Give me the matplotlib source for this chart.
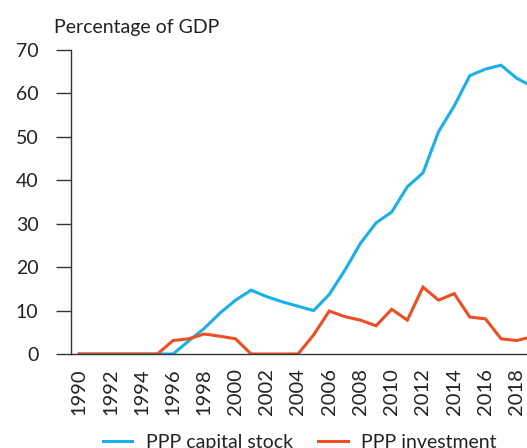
import matplotlib
matplotlib.use("Agg")
import matplotlib.pyplot as plt

years = list(range(1990, 2020))
capital_stock = [0, 0, 0, 0, 0, 0, 0, 3.0, 5.9, 9.4, 12.4, 14.7, 13.2, 12.0, 11.0, 10.0,
                 13.7, 19.3, 25.5, 30.2, 32.7, 38.5, 41.7, 51.2, 57.1, 64.1, 65.6, 66.5, 63.5, 61.6]
investment = [0, 0, 0, 0, 0, 0, 3.1, 3.5, 4.6, 4.1, 3.5, 0, 0, 0, 0, 4.4,
              9.9, 8.6, 7.8, 6.5, 10.3, 7.8, 15.4, 12.4, 13.9, 8.5, 8.1, 3.5, 3.1, 4.0]
xtick_years = list(range(1990, 2019, 2))
yticks = [0, 10, 20, 30, 40, 50, 60, 70]

plt.rcParams['font.family'] = ['Lato', 'DejaVu Sans']
BLUE = '#1AAEEA'
RED = '#EE4E24'
TXT = '#222222'

fig = plt.figure(figsize=(5.27, 4.48), dpi=100)
W, H = 527, 448
x_left_px, x_right_px = 70.5, 545
ax = fig.add_axes([x_left_px / W, (H - 354) / H, (x_right_px - x_left_px) / W, (354 - 50) / H])

ax.plot(years, capital_stock, color=BLUE, lw=2.2, label='PPP capital stock', solid_joinstyle='miter')
ax.plot(years, investment, color=RED, lw=2.2, label='PPP investment', solid_joinstyle='miter')

px_per_year = 15.62
ax.set_xlim(1990 - (79.3 - x_left_px) / px_per_year, 1990 + (x_right_px - 79.3) / px_per_year)
ax.set_ylim(0, 70)
ax.set_yticks(yticks)
ax.set_xticks(xtick_years)
ax.set_xticklabels([str(y) for y in xtick_years], rotation=90)

for s in ['top', 'right']:
    ax.spines[s].set_visible(False)
for s in ['left', 'bottom']:
    ax.spines[s].set_color('#333333')
    ax.spines[s].set_linewidth(1.0)

ax.tick_params(axis='y', length=11, width=1.0, color='#333333', pad=12, labelsize=14, labelcolor=TXT)
ax.tick_params(axis='x', length=0, pad=10, labelsize=14.5, labelcolor=TXT)

fig.text(54 / W, 1 - 27 / H, 'Percentage of GDP', fontsize=14, color=TXT, va='center', ha='left')

fig.legend(loc='center', bbox_to_anchor=(300 / W, 1 - 442 / H), ncol=2, frameon=False,
           fontsize=14, handlelength=1.5, handletextpad=0.7, columnspacing=1.3,
           labelcolor=TXT)

fig.savefig('out.png', dpi=100)
